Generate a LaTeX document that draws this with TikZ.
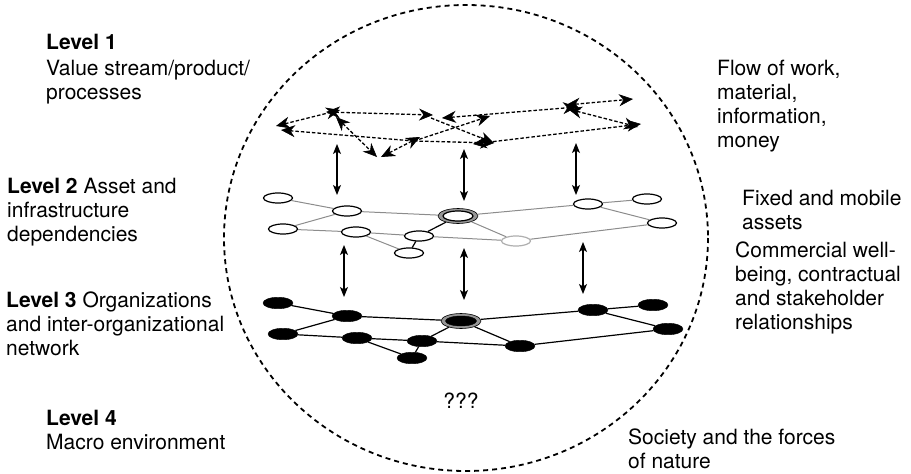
\documentclass[tikz,border=0pt]{standalone}
\usepackage{fontspec}
\setmainfont{TeX Gyre Heros}
\usetikzlibrary{arrows.meta,shapes.geometric}
\definecolor{edgegray}{RGB}{140,140,140}
\definecolor{ringgray}{RGB}{150,150,150}
\definecolor{lightnode}{RGB}{175,175,175}
\begin{document}
\begin{tikzpicture}[x=1pt,y=-1pt,
  lbl/.style={anchor=base west,inner sep=0pt,font=\fontsize{21}{24}\selectfont},
  wnode/.style={ellipse,draw=black,line width=1.2pt,fill=white,minimum width=29pt,minimum height=10pt,inner sep=0pt},
  bnode/.style={ellipse,draw=black,fill=black,minimum width=30pt,minimum height=11.5pt,inner sep=0pt},
  ring/.style={ellipse,draw=black,line width=0.6pt,fill=ringgray,minimum width=40pt,minimum height=15pt,inner sep=0pt},
  gedge/.style={draw=edgegray,line width=1pt},
  bedge/.style={draw=black,line width=1.2pt},
  flow/.style={line width=1.3pt,dash pattern=on 3.5pt off 2pt,{Stealth[length=14pt,width=12pt,inset=4.5pt,line width=0.6pt]}-{Stealth[length=14pt,width=12pt,inset=4.5pt,line width=0.6pt]}},
  flowone/.style={line width=1.3pt,dash pattern=on 3.5pt off 2pt,-{Stealth[length=14pt,width=12pt,inset=4.5pt,line width=0.6pt]}},
  link/.style={line width=1.2pt,{Stealth[length=10pt,width=8pt,inset=2.5pt]}-{Stealth[length=10pt,width=8pt,inset=2.5pt]}}
]
\useasboundingbox (0,0) rectangle (911,474);

% outer dashed circle
\draw[line width=1.8pt,dash pattern=on 5pt off 4pt] (466,238) ellipse [x radius=242,y radius=233];

% ---------- Level 1 flow network ----------
\coordinate (q1a) at (276,126);
\coordinate (q1b) at (281,130);
\coordinate (q2a) at (340,110);
\coordinate (q2b) at (326,112);
\coordinate (q2c) at (336,117);
\coordinate (q3a) at (433,115);
\coordinate (q3c) at (431,118);
\coordinate (q3d) at (442,118);
\coordinate (q4) at (490,116);
\coordinate (q5a) at (420,137);
\coordinate (q5c) at (414,141);
\coordinate (q6a) at (377,157);
\coordinate (q6b) at (381,157);
\coordinate (q7a) at (494,143);
\coordinate (q7b) at (473,144);
\coordinate (q8a) at (577,107);
\coordinate (q8b) at (566,105);
\coordinate (q8c) at (568,109);
\coordinate (q9) at (633,99);
\coordinate (q10a) at (641,124);
\coordinate (q10b) at (638,127);

\draw[flow] (q1a) -- (q2a);
\draw[flowone] (q5c) -- (q1b);
\draw[flow] (q2b) -- (q3a);
\draw[flow] (q2c) -- (q6a);
\draw[flow] (q6b) -- (q5a);
\draw[flowone] (q5c) -- (q4);
\draw[flowone] (q3c) -- (q7a);
\draw[flowone] (q5c) -- (q7a);
\draw[flow] (q3d) -- (q8a);
\draw[flow] (q7b) -- (q10a);
\draw[flow] (q8b) -- (q9);
\draw[flow] (q8c) -- (q10b);

% ---------- Level 2 asset network ----------
\node[wnode] (a1) at (278,198) {};
\node[wnode] (a2) at (347,211) {};
\node[wnode] (a3) at (283,229) {};
\node[wnode] (a4) at (356,232) {};
\node[wnode] (a5) at (419,236) {};
\node[wnode] (a6) at (409,253) {};
\node[ring] (c2) at (458,216) {};
\node[wnode,minimum width=30pt,minimum height=10pt] (c2i) at (458,216) {};
\node[wnode,draw=lightnode] (a7) at (516,241) {};
\node[wnode] (a8) at (588,204) {};
\node[wnode] (a9) at (647,199) {};
\node[wnode] (a10) at (662,223) {};

\draw[gedge] (a1) -- (a2);
\draw[gedge] (a2) -- (c2);
\draw[gedge] (a2) -- (a3);
\draw[gedge] (a3) -- (a4);
\draw[gedge] (a4) -- (a5);
\draw[gedge] (a4) -- (a6);
\draw[bedge] (a5) -- (a6);
\draw[bedge] (a5) -- (c2);
\draw[gedge] (a5) -- (a7);
\draw[gedge] (c2) -- (a7);
\draw[gedge] (c2) -- (a8);
\draw[gedge] (a8) -- (a9);
\draw[gedge] (a8) -- (a10);
\draw[gedge] (a7) -- (a10);

% ---------- Level 3 organisation network ----------
\node[bnode] (b1) at (278,303) {};
\node[bnode] (b2) at (347,316) {};
\node[bnode] (b3) at (283,334) {};
\node[bnode] (b4) at (357,338) {};
\node[bnode] (b5) at (422,341) {};
\node[bnode] (b6) at (412,358) {};
\node[ring] (c3) at (461,321) {};
\node[bnode,minimum width=31pt,minimum height=10pt] (c3i) at (461,321) {};
\node[bnode] (b7) at (520,346) {};
\node[bnode] (b8) at (593,310) {};
\node[bnode] (b9) at (653,305) {};
\node[bnode] (b10) at (668,329) {};

\draw[bedge] (b1) -- (b2);
\draw[bedge] (b2) -- (c3);
\draw[bedge] (b2) -- (b3);
\draw[bedge] (b3) -- (b4);
\draw[bedge] (b4) -- (b5);
\draw[bedge] (b4) -- (b6);
\draw[bedge] (b5) -- (b6);
\draw[bedge] (b5) -- (c3);
\draw[bedge] (b5) -- (b7);
\draw[bedge] (c3) -- (b7);
\draw[bedge] (c3) -- (b8);
\draw[bedge] (b8) -- (b9);
\draw[bedge] (b8) -- (b10);
\draw[bedge] (b7) -- (b10);

% ---------- vertical links ----------
\coordinate (u1t) at (337,144); \coordinate (u1b) at (337,195);
\coordinate (u2t) at (464,149); \coordinate (u2b) at (464,201);
\coordinate (u3t) at (576,143); \coordinate (u3b) at (576,195);
\coordinate (d1t) at (344,245); \coordinate (d1b) at (344,297);
\coordinate (d2t) at (464,248); \coordinate (d2b) at (464,300);
\coordinate (d3t) at (583,242); \coordinate (d3b) at (583,294);
\draw[link] (u1t) -- (u1b);
\draw[link] (u2t) -- (u2b);
\draw[link] (u3t) -- (u3b);
\draw[link] (d1t) -- (d1b);
\draw[link] (d2t) -- (d2b);
\draw[link] (d3t) -- (d3b);

% ---------- labels left ----------
\node[lbl] (l1a) at (46,49) {\textbf{Level 1}};
\node[lbl] (l1b) at (46,75) {Value stream/product/};
\node[lbl] (l1c) at (46,99) {processes};
\node[lbl] (l2a) at (7,193) {\textbf{Level 2} Asset and};
\node[lbl] (l2b) at (7,217) {infrastructure};
\node[lbl] (l2c) at (7,241) {dependencies};
\node[lbl] (l3a) at (6,307) {\textbf{Level 3} Organizations};
\node[lbl] (l3b) at (6,331) {and inter-organizational};
\node[lbl] (l3c) at (6,355) {network};
\node[lbl] (l4a) at (46,425) {\textbf{Level 4}};
\node[lbl] (l4b) at (46,449) {Macro environment};

% ---------- labels right ----------
\node[lbl] (r1a) at (717,75) {Flow of work,};
\node[lbl] (r1b) at (717,99) {material,};
\node[lbl] (r1c) at (717,123) {information,};
\node[lbl] (r1d) at (717,147) {money};
\node[lbl] (r2a) at (742,205) {Fixed and mobile};
\node[lbl] (r2b) at (742,229) {assets};
\node[lbl] (r3a) at (735,257) {Commercial well-};
\node[lbl] (r3b) at (735,281) {being, contractual};
\node[lbl] (r3c) at (735,305) {and stakeholder};
\node[lbl] (r3d) at (735,329) {relationships};
\node[lbl] (r4a) at (628,444) {Society and the forces};
\node[lbl] (r4b) at (628,468) {of nature};

\node[lbl,anchor=base] (qqq) at (461,408) {???};
\end{tikzpicture}
\end{document}
